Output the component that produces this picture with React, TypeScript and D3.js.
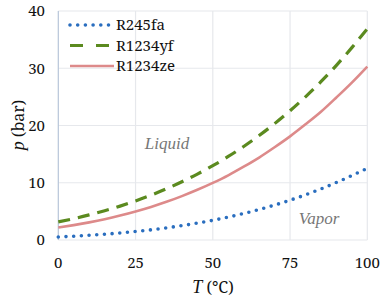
import React from "react";
import * as d3 from "d3";

const temps = [0, 5, 10, 15, 20, 25, 30, 35, 40, 45, 50, 55, 60, 65, 70, 75, 80, 85, 90, 95, 100];
const r245fa = [0.53, 0.66, 0.82, 1.01, 1.23, 1.48, 1.78, 2.12, 2.51, 2.95, 3.44, 4.0, 4.63, 5.33, 6.1, 6.95, 7.89, 8.92, 10.04, 11.27, 12.5];
const r1234yf = [3.16, 3.73, 4.39, 5.11, 5.92, 6.83, 7.83, 8.94, 10.17, 11.51, 12.98, 14.59, 16.34, 18.25, 20.32, 22.57, 25.01, 27.65, 30.51, 33.6, 36.9];
const r1234ze = [2.17, 2.6, 3.08, 3.63, 4.27, 4.99, 5.78, 6.67, 7.67, 8.77, 9.98, 11.3, 12.8, 14.4, 16.2, 18.1, 20.2, 22.4, 24.9, 27.5, 30.3];
const xTicks = [0, 25, 50, 75, 100];
const yTicks = [0, 10, 20, 30, 40];
const seriesNames = ["R245fa", "R1234yf", "R1234ze"];

const W = 383, H = 302;
const x = d3.scaleLinear().domain([0, 100]).range([58.3, 367.3]);
const y = d3.scaleLinear().domain([0, 40]).range([240, 11]);

const styles = [
  { stroke: "#2a6ebf", width: 3.6, dash: "0 7.7", cap: "round" as const },
  { stroke: "#5b8a1f", width: 3.2, dash: "12 8", cap: "butt" as const },
  { stroke: "#dd8a8a", width: 2.6, dash: undefined, cap: "butt" as const },
];

const REG = { fontFamily: '"Noto Serif", "Liberation Serif", serif' };
const ITA = { fontFamily: '"Liberation Serif", serif', fontStyle: "italic" as const };

export default function App() {
  const data = [r245fa, r1234yf, r1234ze];
  const line = d3
    .line<number>()
    .x((_, i) => x(temps[i]))
    .y((d) => y(d))
    .curve(d3.curveMonotoneX);
  return (
    <svg width={W} height={H} style={{ position: "absolute", left: 0, top: 0 }}>
      <rect width={W} height={H} fill="#fff" />
      {xTicks.slice(1).map((t) => (
        <line key={"gx" + t} x1={x(t)} x2={x(t)} y1={y(40)} y2={y(0)} stroke="#e6e8ec" strokeWidth={1.2} />
      ))}
      {yTicks.map((t) => (
        <line key={"gy" + t} x1={x(0)} x2={x(100)} y1={y(t)} y2={y(t)} stroke="#e6e8ec" strokeWidth={1.2} />
      ))}
      <line x1={x(0)} x2={x(0)} y1={y(40)} y2={y(0)} stroke="#b7c5d8" strokeWidth={1.2} />
      {yTicks.map((t) => (
        <text key={"ty" + t} style={REG} x={45} y={y(t)} dy="0.35em" textAnchor="end" fontSize={15} fill="#111">
          {t}
        </text>
      ))}
      {xTicks.map((t) => (
        <text key={"tx" + t} style={REG} x={x(t)} y={268} textAnchor="middle" fontSize={15} fill="#111">
          {t}
        </text>
      ))}
      <text style={REG} x={213} y={293} textAnchor="middle" fontSize={16} fill="#111">
        <tspan style={ITA} fontSize={18}>T</tspan> (°C)
      </text>
      <text style={REG} transform="translate(24,125) rotate(-90)" textAnchor="middle" fontSize={16} fill="#111">
        <tspan style={ITA} fontSize={18}>p</tspan> (bar)
      </text>
      {data.map((d, i) => (
        <path
          key={"s" + i}
          d={line(d) || ""}
          fill="none"
          stroke={styles[i].stroke}
          strokeWidth={styles[i].width}
          strokeDasharray={styles[i].dash}
          strokeLinecap={styles[i].cap}
        />
      ))}
      <text style={ITA} x={167} y={149} textAnchor="middle" fontSize={17} fill="#777">
        Liquid
      </text>
      <text style={ITA} x={319} y={224} textAnchor="middle" fontSize={17} fill="#777">
        Vapor
      </text>
      {seriesNames.map((n, i) => {
        const yy = 25 + i * 20.5;
        return (
          <g key={"lg" + i}>
            <line
              x1={70}
              x2={i === 0 ? 112 : 114}
              y1={yy}
              y2={yy}
              stroke={styles[i].stroke}
              strokeWidth={styles[i].width}
              strokeDasharray={i === 1 ? "13 13" : styles[i].dash}
              strokeLinecap={styles[i].cap}
            />
            <text style={REG} x={116} y={yy} dy="0.35em" fontSize={15} fill="#111">
              {n}
            </text>
          </g>
        );
      })}
    </svg>
  );
}
